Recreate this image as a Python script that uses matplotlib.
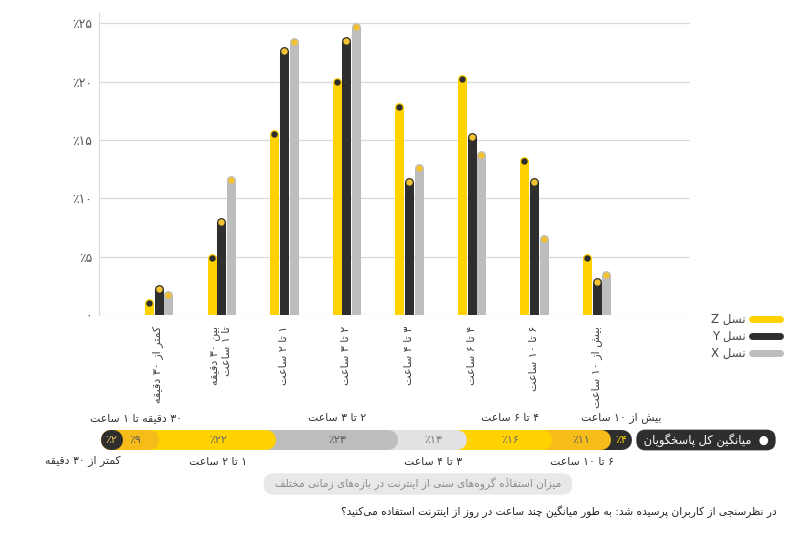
import numpy as np
import matplotlib.pyplot as plt
from matplotlib.lines import Line2D

plt.rcParams['font.family'] = ['DejaVu Sans']

# %% DATA

categories = ['کمتر از ۳۰ دقیقه', 'بین ۳۰ دقیقه\nتا ۱ ساعت', '۱ تا ۲ ساعت', '۲ تا ۳ ساعت',
              '۳ تا ۴ ساعت', '۴ تا ۶ ساعت', '۶ تا ۱۰ ساعت', 'بیش از ۱۰ ساعت']
gen_z = [1.0, 4.9, 15.5, 20.0, 17.8, 20.2, 13.2, 4.9]
gen_y = [2.2, 8.0, 22.6, 23.5, 11.4, 15.3, 11.4, 2.8]
gen_x = [1.7, 11.6, 23.4, 24.7, 12.6, 13.7, 6.5, 3.4]
series_names = ['نسل Z', 'نسل Y', 'نسل X']
yticks = [0, 5, 10, 15, 20, 25]

# average of all respondents, listed right to left
avg_labels = ['بیش از ۱۰ ساعت', '۶ تا ۱۰ ساعت', '۴ تا ۶ ساعت', '۳ تا ۴ ساعت',
              '۲ تا ۳ ساعت', '۱ تا ۲ ساعت', '۳۰ دقیقه تا ۱ ساعت', 'کمتر از ۳۰ دقیقه']
avg_share = [4, 11, 16, 13, 23, 22, 9, 2]

avg_title = 'میانگین کل پاسخگویان'
caption = 'میزان استفادهٔ گروه‌های سنی از اینترنت در بازه‌های زمانی مختلف'
question = 'در نظرسنجی از کاربران پرسیده شد: به طور میانگین چند ساعت در روز از اینترنت استفاده می‌کنید؟'

# %% PERSIAN SHAPING (matplotlib has no RTL layout)

FORMS = {
    '\u0627': ('\uFE8D', '\uFE8E'), '\u0622': ('\uFE81', '\uFE82'),
    '\u0628': ('\uFE8F', '\uFE90', '\uFE91', '\uFE92'),
    '\u067E': ('\uFB56', '\uFB57', '\uFB58', '\uFB59'),
    '\u062A': ('\uFE95', '\uFE96', '\uFE97', '\uFE98'),
    '\u062B': ('\uFE99', '\uFE9A', '\uFE9B', '\uFE9C'),
    '\u062C': ('\uFE9D', '\uFE9E', '\uFE9F', '\uFEA0'),
    '\u0686': ('\uFB7A', '\uFB7B', '\uFB7C', '\uFB7D'),
    '\u062D': ('\uFEA1', '\uFEA2', '\uFEA3', '\uFEA4'),
    '\u062E': ('\uFEA5', '\uFEA6', '\uFEA7', '\uFEA8'),
    '\u062F': ('\uFEA9', '\uFEAA'), '\u0630': ('\uFEAB', '\uFEAC'),
    '\u0631': ('\uFEAD', '\uFEAE'), '\u0632': ('\uFEAF', '\uFEB0'),
    '\u0698': ('\uFB8A', '\uFB8B'),
    '\u0633': ('\uFEB1', '\uFEB2', '\uFEB3', '\uFEB4'),
    '\u0634': ('\uFEB5', '\uFEB6', '\uFEB7', '\uFEB8'),
    '\u0635': ('\uFEB9', '\uFEBA', '\uFEBB', '\uFEBC'),
    '\u0636': ('\uFEBD', '\uFEBE', '\uFEBF', '\uFEC0'),
    '\u0637': ('\uFEC1', '\uFEC2', '\uFEC3', '\uFEC4'),
    '\u0638': ('\uFEC5', '\uFEC6', '\uFEC7', '\uFEC8'),
    '\u0639': ('\uFEC9', '\uFECA', '\uFECB', '\uFECC'),
    '\u063A': ('\uFECD', '\uFECE', '\uFECF', '\uFED0'),
    '\u0641': ('\uFED1', '\uFED2', '\uFED3', '\uFED4'),
    '\u0642': ('\uFED5', '\uFED6', '\uFED7', '\uFED8'),
    '\u06A9': ('\uFB8E', '\uFB8F', '\uFB90', '\uFB91'),
    '\u06AF': ('\uFB92', '\uFB93', '\uFB94', '\uFB95'),
    '\u0644': ('\uFEDD', '\uFEDE', '\uFEDF', '\uFEE0'),
    '\u0645': ('\uFEE1', '\uFEE2', '\uFEE3', '\uFEE4'),
    '\u0646': ('\uFEE5', '\uFEE6', '\uFEE7', '\uFEE8'),
    '\u0648': ('\uFEED', '\uFEEE'),
    '\u0647': ('\uFEE9', '\uFEEA', '\uFEEB', '\uFEEC'),
    '\u06CC': ('\uFBFC', '\uFBFD', '\uFBFE', '\uFBFF'),
}


def jtype(c):
    if c not in FORMS:
        return None
    return 'D' if len(FORMS[c]) == 4 else 'R'


def fa_line(s):
    s = s.replace('\u064A', '\u06CC').replace('\u0643', '\u06A9').replace('\u06C0', '\u0647\u0654')
    out = []
    for i, c in enumerate(s):
        if c not in FORMS:
            if c != '\u200c':
                out.append(c)
            continue
        p = s[i-1] if i > 0 else ''
        nx = s[i+1] if i + 1 < len(s) else ''
        jp = jtype(p) == 'D'
        jn = jtype(c) == 'D' and jtype(nx) is not None
        f = FORMS[c]
        if jp and jn:
            out.append(f[3])
        elif jp:
            out.append(f[1])
        elif jn:
            out.append(f[2])
        else:
            out.append(f[0])
    # keep combining marks after their base letter once reversed
    merged = []
    for c in out:
        if c == '\u0654' and merged:
            merged[-1] = merged[-1] + c
        else:
            merged.append(c)
    merged = merged[::-1]
    res, run = [], []
    for c in merged:
        if len(c) == 1 and ((c.isascii() and c.isalnum()) or '\u06f0' <= c <= '\u06f9'):
            run.append(c)
        else:
            res.extend(run[::-1])
            run = []
            res.append(c)
    res.extend(run[::-1])
    return ''.join(res)


def fa(s):
    return '\n'.join(fa_line(l) for l in s.split('\n'))


def fa_num(v):
    return str(v).translate(str.maketrans('0123456789', '۰۱۲۳۴۵۶۷۸۹'))


# %% STYLE

yellow = '#FFD200'
amber = '#F6BC1A'
dark = '#2E2E2E'
gray = '#BDBDBD'
lgray = '#E2E2E2'
dot_y = '#F2C230'

fig = plt.figure(figsize=(8.1, 5.35), dpi=100)
W, H = 810, 535

# %% GROUPED BAR CHART

ax = fig.add_axes([99/W, 1 - 315/H, 591/W, 302/H])
ax.set_xlim(-0.955, 8.493)
ax.set_ylim(0, 25.9)

x = np.arange(len(categories))
off = 0.155
bar_lw = 6.5
series = [(gen_z, -off, yellow, dark), (gen_y, 0, dark, dot_y), (gen_x, off, gray, dot_y)]
for vals, dx, col, dcol in series:
    for xi, v in zip(x, vals):
        ax.plot([xi + dx, xi + dx], [-1, v], color=col, lw=bar_lw,
                solid_capstyle='round', zorder=3)
    ax.plot(x + dx, vals, 'o', color=dcol, ms=4.6, mec='none', zorder=4)

ax.set_yticks(yticks)
ax.set_yticklabels(['٪' + fa_num(t) if t else fa_num(t) for t in yticks],
                   fontsize=9, color='#555555')
ax.yaxis.grid(True, color='#DADADA', lw=0.9)
ax.set_axisbelow(True)
ax.tick_params(axis='y', length=0, pad=5)
ax.set_xticks(x)
ax.set_xticklabels([fa(c) for c in categories], rotation=90, va='top', ha='center',
                   multialignment='right', fontsize=8, color='#444444')
ax.tick_params(axis='x', length=0, pad=8)
for s in ['top', 'right', 'bottom']:
    ax.spines[s].set_visible(False)
ax.spines['left'].set_color('#DADADA')

handles = [Line2D([0], [0], color=c, lw=5, solid_capstyle='round') for c in [yellow, dark, gray]]
fig.legend(handles, [fa(n) for n in series_names], loc='upper right',
           bbox_to_anchor=(780/W, 1 - 313/H), frameon=False, markerfirst=False,
           fontsize=8.5, labelcolor='#444444', handlelength=2.4, handletextpad=0.5,
           labelspacing=0.35, borderpad=0, borderaxespad=0)

# %% AVERAGE STACKED BAR

ax2 = fig.add_axes([101/W, 1 - 480/H, 531/W, 80/H])
ax2.set_xlim(100, 0)
ax2.set_ylim(-1, 1)
ax2.axis('off')

seg_colors = [dark, amber, yellow, lgray, gray, yellow, amber, dark]
pct_colors = [yellow, '#5A5A5A', '#6A6A6A', '#7A7A7A', '#5A5A5A', '#6A6A6A', '#5A5A5A', '#E9C35A']
r = 10 / (531 / 100)
cum = np.cumsum(avg_share)
starts = np.concatenate([[0], cum[:-1]])
for i, (s0, s1) in enumerate(zip(starts, cum)):
    right_end = min(s0 + r, 100 - r - 0.3)
    ax2.plot([right_end, 100 - r], [0, 0], color=seg_colors[i], lw=14.4,
             solid_capstyle='round', zorder=2 + i)
    tx = min((s0 + s1) / 2, 100 - r)
    ax2.text(tx, 0, '٪' + fa_num(avg_share[i]), ha='center', va='center',
             fontsize=8, color=pct_colors[i], zorder=20)
    if i == len(avg_share) - 1:
        lx, ha = 100 - 2 * r, 'right'
    else:
        lx, ha = tx, 'center'
    dy = 16 if i % 2 == 0 else -15.5
    ax2.annotate(fa(avg_labels[i]), (lx, 0), xytext=(0, dy), textcoords='offset points',
                 ha=ha, va='center', fontsize=7.8, color='#333333')

fig.text(706/W, 1 - 440/H, ' ' + fa(avg_title) + '  ● ', ha='center', va='center',
         fontsize=8.3, color='white',
         bbox=dict(boxstyle='round,pad=0.3,rounding_size=0.8', fc=dark, ec='none'))

fig.text(418/W, 1 - 484/H, '  ' + fa(caption) + '  ', ha='center', va='center',
         fontsize=7.6, color='#8C8C8C',
         bbox=dict(boxstyle='round,pad=0.4,rounding_size=0.9', fc='#E8E8E8', ec='none'))

fig.text(777/W, 1 - 512/H, fa(question), ha='right', va='center', fontsize=7.6, color='#222222')

fig.savefig('out.png', dpi=100)
